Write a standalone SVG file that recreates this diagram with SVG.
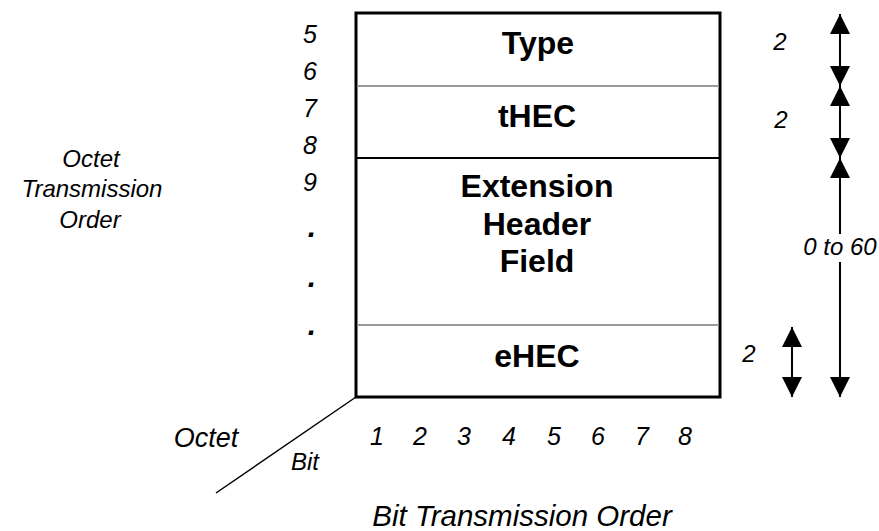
<svg xmlns="http://www.w3.org/2000/svg" width="879" height="531" viewBox="0 0 879 531">
  <style>
    .field { font-family: "Liberation Sans", Arial, sans-serif; font-weight: bold; font-size: 32px; fill: #000; text-anchor: middle; }
    .note { font-family: "Liberation Sans", Arial, sans-serif; font-style: italic; font-size: 24px; fill: #000; text-anchor: middle; }
    .num { font-size: 25px; }
    .dot { font-size: 30px; font-weight: bold; }
    .frame { fill: #fff; stroke: #000; stroke-width: 3; }
    .rule-grey { stroke: #999; stroke-width: 2; }
    .rule-black { stroke: #000; stroke-width: 2; }
    .span { stroke: #000; stroke-width: 2; fill: none; marker-start: url(#head); marker-end: url(#head); }
  </style>
  <defs>
    <marker id="head" viewBox="0 0 20 20" refX="20" refY="10" markerWidth="20" markerHeight="20" markerUnits="userSpaceOnUse" orient="auto-start-reverse">
      <path d="M0,0 L20,10 L0,20 z" fill="#000"/>
    </marker>
  </defs>

  <rect width="879" height="531" fill="#fff"/>

  <!-- header frame -->
  <rect class="frame" x="356" y="13" width="364" height="384"/>

  <g id="field-type">
    <text class="field" x="538" y="54">Type</text>
  </g>
  <line class="rule-grey" x1="357" y1="86" x2="719" y2="86"/>
  <g id="field-thec">
    <text class="field" x="537" y="127">tHEC</text>
  </g>
  <line class="rule-black" x1="357" y1="158" x2="719" y2="158"/>
  <g id="field-extension">
    <text class="field" x="537" y="197">Extension</text>
    <text class="field" x="537" y="235">Header</text>
    <text class="field" x="537" y="272">Field</text>
  </g>
  <line class="rule-grey" x1="357" y1="325" x2="719" y2="325"/>
  <g id="field-ehec">
    <text class="field" x="537" y="367">eHEC</text>
  </g>

  <!-- octet numbers -->
  <g id="octet-numbers" class="note">
    <text class="num" x="310" y="43">5</text>
    <text class="num" x="310" y="80">6</text>
    <text class="num" x="310" y="117">7</text>
    <text class="num" x="310" y="154">8</text>
    <text class="num" x="310" y="191">9</text>
    <text class="dot" x="312" y="237">.</text>
    <text class="dot" x="312" y="287">.</text>
    <text class="dot" x="312" y="335">.</text>
  </g>

  <g id="octet-order" class="note">
    <text x="91" y="167">Octet</text>
    <text x="92" y="197">Transmission</text>
    <text x="90" y="228">Order</text>
  </g>

  <!-- bit numbers -->
  <g id="bit-numbers" class="note">
    <text class="num" x="377" y="445">1</text>
    <text class="num" x="420" y="445">2</text>
    <text class="num" x="464" y="445">3</text>
    <text class="num" x="509" y="445">4</text>
    <text class="num" x="554" y="445">5</text>
    <text class="num" x="598" y="445">6</text>
    <text class="num" x="642" y="445">7</text>
    <text class="num" x="685" y="445">8</text>
  </g>

  <g id="corner-labels">
    <line x1="356" y1="397" x2="216" y2="493" stroke="#000" stroke-width="1.5"/>
    <text class="note" x="206" y="447" style="font-size:27px">Octet</text>
    <text class="note" x="305" y="470">Bit</text>
  </g>

  <g id="bit-order">
    <text class="note" x="522" y="526" style="font-size:29.5px">Bit Transmission Order</text>
  </g>

  <!-- length spans -->
  <g id="connectors">
    <line class="span" x1="840" y1="14" x2="840" y2="86"/>
    <line class="span" x1="840" y1="86" x2="840" y2="158"/>
    <line class="span" x1="840" y1="158" x2="840" y2="397"/>
    <line class="span" x1="792" y1="327" x2="792" y2="397"/>
  </g>

  <g id="span-labels" class="note">
    <text x="780" y="50">2</text>
    <text x="781" y="128">2</text>
    <rect x="800" y="234" width="79" height="28" fill="#fff"/>
    <text x="840" y="255">0 to 60</text>
    <text x="749" y="362">2</text>
  </g>
</svg>
